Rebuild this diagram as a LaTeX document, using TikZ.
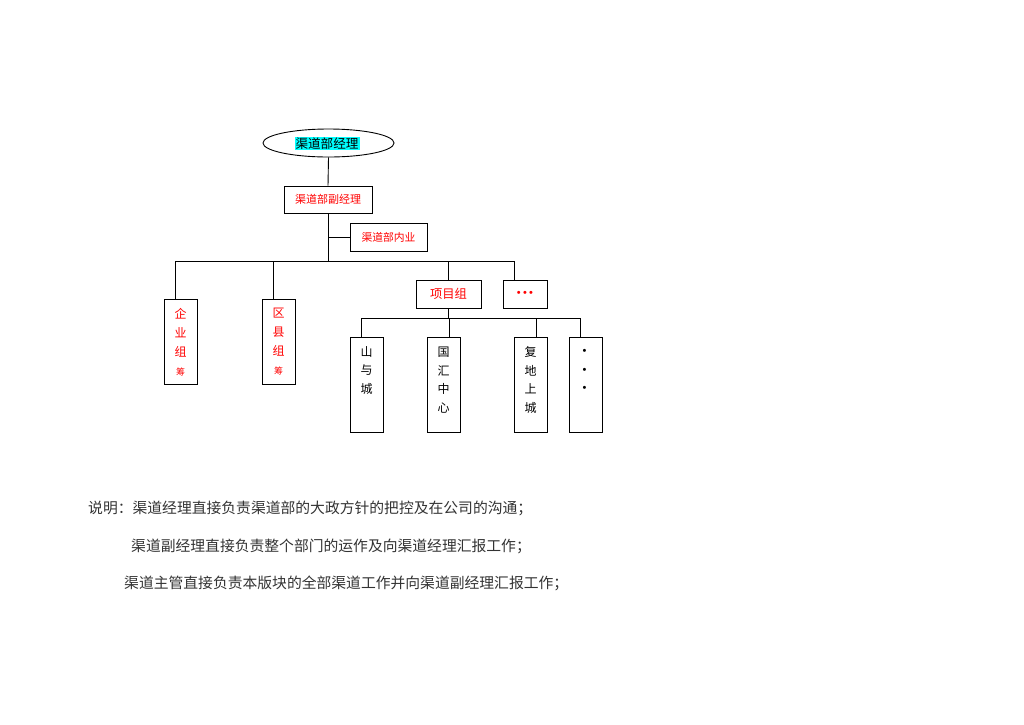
\documentclass[tikz,border=0pt]{standalone}
\usepackage{fontspec}
\setmainfont{Noto Sans CJK SC}
\newfontfamily\latfont{Liberation Sans}
\usetikzlibrary{shapes.geometric,calc}
\definecolor{hl}{RGB}{0,255,255}
\definecolor{rd}{RGB}{255,0,0}
\tikzset{
  box/.style={draw=black, line width=1pt, rectangle, inner sep=0pt},
  conn/.style={draw=black, line width=0.9pt},
  redtxt/.style={text=rd},
  vtext/.style={align=center, inner sep=0pt},
  captxt/.style={anchor=west, inner sep=0pt, text=black!80, font=\fontsize{14.8}{16}\selectfont}
}
\begin{document}
\begin{tikzpicture}[x=1pt,y=-1pt]
\useasboundingbox (0,0) rectangle (1024,724);
\fill[white] (0,0) rectangle (1024,724);

% top manager
\node[draw=black, line width=0.9pt, ellipse, minimum width=131pt, minimum height=28pt, inner sep=0pt] (top) at (328.5,143) {};
\node[fill=hl, inner sep=1pt, font=\fontsize{12.6}{14}\selectfont] (toptxt) at (327,143.5) {渠道部经理};

% deputy
\node[box, minimum width=88pt, minimum height=27pt, redtxt, font=\fontsize{11}{13}\selectfont] (vp) at (328,199.5) {渠道部副经理};
% internal
\node[box, minimum width=77pt, minimum height=28pt, redtxt, font=\fontsize{10.8}{13}\selectfont] (nei) at (388.5,237) {渠道部内业};

% level 2 boxes
\node[box, minimum width=33pt, minimum height=85pt] (qy) at (180.5,341.5) {};
\node[vtext, redtxt, font=\fontsize{12}{19}\selectfont] (qyt) at (180.5,342) {企\\业\\组\\{\fontsize{9}{10}\selectfont 筹}};
\node[box, minimum width=33pt, minimum height=85pt] (qx) at (278.5,341.5) {};
\node[vtext, redtxt, font=\fontsize{12}{19}\selectfont] (qxt) at (278.5,342) {区\\县\\组\\{\fontsize{9}{10}\selectfont 筹}};
\node[box, minimum width=65pt, minimum height=28pt, redtxt, font=\fontsize{12.3}{14}\selectfont] (xm) at (448.5,294) {项目组};
\node[box, minimum width=44pt, minimum height=28pt, redtxt, font=\latfont\fontsize{11}{12}\selectfont] (more) at (525,294) {•\hspace{2.3pt}•\hspace{2.3pt}•};

% level 3 boxes
\node[box, minimum width=33pt, minimum height=95pt] (s1) at (366.5,384.5) {};
\node[vtext, font=\fontsize{12}{18.5}\selectfont] (s1t) at (366.5,370.5) {山\\与\\城};
\node[box, minimum width=33pt, minimum height=95pt] (s2) at (443.5,384.5) {};
\node[vtext, font=\fontsize{12}{18.7}\selectfont] (s2t) at (443.5,380) {国\\汇\\中\\心};
\node[box, minimum width=33pt, minimum height=95pt] (s3) at (530.5,384.5) {};
\node[vtext, font=\fontsize{12}{18.7}\selectfont] (s3t) at (530.5,380) {复\\地\\上\\城};
\node[box, minimum width=33pt, minimum height=95pt] (s4) at (585.5,384.5) {};
\node[vtext, font=\latfont\fontsize{11}{18.5}\selectfont] (s4t) at (584.5,370.5) {•\\•\\•};

% connectors
\coordinate (bus) at (328,261);
\coordinate (qyT) at ([xshift=-5.5pt]qy.north);
\coordinate (qxT) at ([xshift=-4.8pt]qx.north);
\coordinate (xmT) at (xm.north);
\coordinate (moreT) at ([xshift=-10.7pt]more.north);
\draw[conn] (top.south) -- (vp.north);
\draw[conn] (vp.south) -- (bus);
\draw[conn] (vp.south |- nei.west) -- (nei.west);
\draw[conn] (qyT |- bus) -- (moreT |- bus);
\draw[conn] (qyT |- bus) -- (qyT);
\draw[conn] (qxT |- bus) -- (qxT);
\draw[conn] (xmT |- bus) -- (xmT);
\draw[conn] (moreT |- bus) -- (moreT);

\coordinate (bus2) at (448.5,318);
\coordinate (s1T) at ([xshift=-5.5pt]s1.north);
\coordinate (s2T) at ([xshift=5.5pt]s2.north);
\coordinate (s3T) at ([xshift=5.5pt]s3.north);
\coordinate (s4T) at ([xshift=-5.5pt]s4.north);
\draw[conn] (xm.south) -- (bus2);
\draw[conn] (s1T |- bus2) -- (s4T |- bus2);
\draw[conn] (s1T |- bus2) -- (s1T);
\draw[conn] (s2T |- bus2) -- (s2T);
\draw[conn] (s3T |- bus2) -- (s3T);
\draw[conn] (s4T |- bus2) -- (s4T);

% caption
\node[captxt] (c1) at (88,508) {说明：渠道经理直接负责渠道部的大政方针的把控及在公司的沟通；};
\node[captxt] (c2) at (131,546) {渠道副经理直接负责整个部门的运作及向渠道经理汇报工作；};
\node[captxt] (c3) at (124,583) {渠道主管直接负责本版块的全部渠道工作并向渠道副经理汇报工作；};
\end{tikzpicture}
\end{document}
